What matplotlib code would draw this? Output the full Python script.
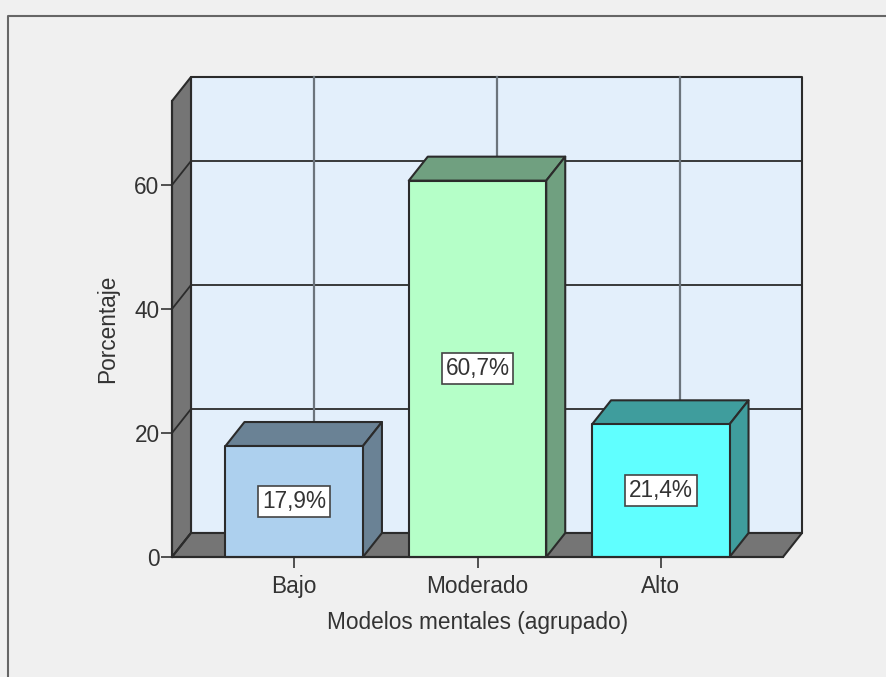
import matplotlib
matplotlib.use('Agg')
import matplotlib.pyplot as plt
from matplotlib.lines import Line2D
from matplotlib.patches import Polygon

categories = ['Bajo', 'Moderado', 'Alto']
percentages = [17.9, 60.7, 21.4]
value_labels = ['17,9%', '60,7%', '21,4%']
yticks = [0, 20, 40, 60]
front_colors = ['#ADD0EE', '#B5FFC8', '#60FFFF']
shade_colors = ['#6A8295', '#70A080', '#3F9D9D']

W, H = 886, 677
EDGE = '#2b2b2b'
TEXT = '#333333'
BG = '#F0F0F0'
WALL = '#E3EFFB'
SIDE = '#757575'

plt.rcParams['font.family'] = ['Liberation Sans', 'DejaVu Sans']
plt.rcParams['font.size'] = 16.3

fig = plt.figure(figsize=(W / 100, H / 100), dpi=100, facecolor=BG)

# front plane of the 3D box, in pixels of the reference
left, right, bottom, top = 172, 783, 557, 101
ax = fig.add_axes([left / W, 1 - bottom / H, (right - left) / W, (bottom - top) / H])
ax.set_facecolor('none')
ax.set_xlim(-0.6667, 2.6667)
ymax = (bottom - top) / 6.2
ax.set_ylim(0, ymax)

# depth of the box, pixels to data units
dx = 19 / 183.3
dy = 24 / 6.2
x0, x1 = ax.get_xlim()


def poly(points, color, lw=1.5, z=1):
    ax.add_patch(Polygon(points, closed=True, facecolor=color, edgecolor=EDGE,
                         linewidth=lw, zorder=z, clip_on=False, joinstyle='round'))


# back wall, left wall, floor
poly([(x0 + dx, dy), (x1 + dx, dy), (x1 + dx, ymax + dy), (x0 + dx, ymax + dy)], WALL)
poly([(x0, 0), (x0 + dx, dy), (x0 + dx, ymax + dy), (x0, ymax)], SIDE)
poly([(x0, 0), (x1, 0), (x1 + dx, dy), (x0 + dx, dy)], SIDE)

# grid on the walls
for v in yticks:
    ax.plot([x0, x0 + dx, x1 + dx], [v, v + dy, v + dy], color=EDGE, lw=1.3, zorder=2, clip_on=False)
for i in range(len(categories)):
    ax.plot([i + dx + 0.003, i + dx + 0.003], [dy, ymax + dy], color='#6C747C', lw=1.6, zorder=2, clip_on=False)

# bars
w = 0.375
for i, v in enumerate(percentages):
    poly([(i - w, v), (i + w, v), (i + w + dx, v + dy), (i - w + dx, v + dy)], shade_colors[i], z=3)
    poly([(i + w, 0), (i + w + dx, dy), (i + w + dx, v + dy), (i + w, v)], shade_colors[i], z=3)
    poly([(i - w, 0), (i + w, 0), (i + w, v), (i - w, v)], front_colors[i], z=4)
    ax.text(i, v / 2, value_labels[i], ha='center', va='center', color=TEXT, zorder=5,
            bbox=dict(boxstyle='square,pad=0.17', facecolor='white', edgecolor='#444444', linewidth=1.2))

ax.set_xticks(range(len(categories)))
ax.set_xticklabels(categories)
ax.set_yticks(yticks)
ax.tick_params(axis='both', length=8, width=1.3, color='#444444', labelcolor=TEXT, pad=1)
ax.tick_params(axis='x', pad=5)

for s in ['top', 'right']:
    ax.spines[s].set_visible(False)
for s in ['left', 'bottom']:
    ax.spines[s].set_color(EDGE)
    ax.spines[s].set_linewidth(1.5)
    ax.spines[s].set_zorder(6)

ax.set_xlabel('Modelos mentales (agrupado)', color=TEXT, va='center')
ax.set_ylabel('Porcentaje', color=TEXT, va='center')
ax.xaxis.set_label_coords(0.5, -(622 - bottom) / (bottom - top))
ax.yaxis.set_label_coords((108 - left) / (right - left), 0.5)

# outer frame of the chart, only top and left show
fig.add_artist(Line2D([8 / W, 8 / W, 1], [0, 1 - 16 / H, 1 - 16 / H], color='#666666', lw=1.5))

fig.savefig('out.png', dpi=100, facecolor=BG)
